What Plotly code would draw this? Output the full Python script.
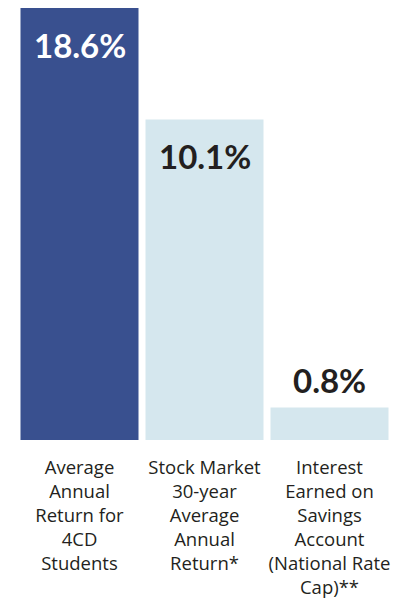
import plotly.graph_objects as go

categories = [
    "Average<br>Annual<br>Return for<br>4CD<br>Students",
    "Stock Market<br>30-year<br>Average<br>Annual<br>Return*",
    "Interest<br>Earned on<br>Savings<br>Account<br>(National Rate<br>Cap)**",
]
value_labels = ["18.6%", "10.1%", "0.8%"]
# The infographic's bars are not drawn to scale; these are the heights as drawn
bar_heights = [18.6, 13.8, 1.4]
bar_colors = ["#39508f", "#d5e7ee", "#d5e7ee"]
label_colors = ["#ffffff", "#231f20", "#231f20"]
label_inside = [True, True, False]

fig = go.Figure()
fig.add_trace(go.Bar(
    x=categories, y=bar_heights,
    marker=dict(color=bar_colors, line=dict(width=0)),
    hoverinfo="skip",
))

for cat, h, txt, col, inside in zip(categories, bar_heights, value_labels, label_colors, label_inside):
    fig.add_annotation(
        x=cat, y=h, text="<b>" + txt + "</b>", showarrow=False,
        yanchor="top" if inside else "bottom",
        yshift=-15 if inside else 5,
        font=dict(family="Lato", size=33, color=col),
    )

fig.update_layout(
    width=406, height=600,
    margin=dict(l=8.5, r=21.5, t=0, b=168),
    paper_bgcolor="white", plot_bgcolor="white",
    bargap=0.056,
    showlegend=False,
    xaxis=dict(showline=False, showgrid=False, zeroline=False, ticks="",
               tickfont=dict(family="Open Sans", size=18.5, color="#231f20"),
               ticklabelstandoff=14),
    yaxis=dict(range=[0, 18.6], visible=False),
)

fig.write_html("out.html")
